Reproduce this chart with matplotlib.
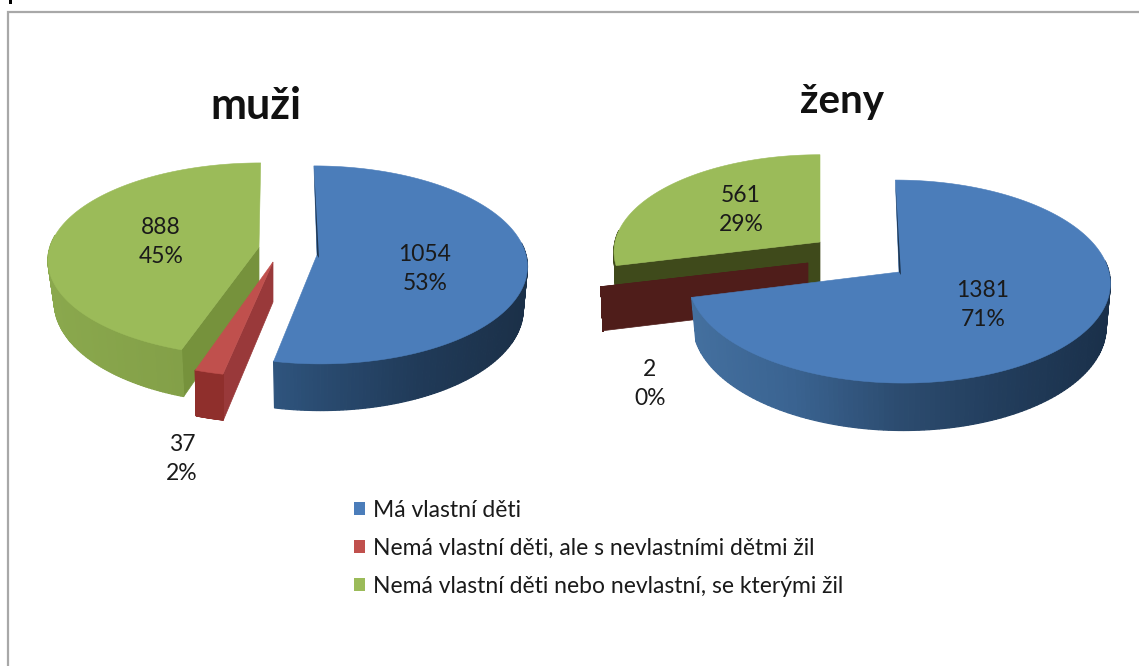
import numpy as np
import matplotlib
matplotlib.use("Agg")
import matplotlib.pyplot as plt
from matplotlib.patches import Polygon, Patch, Rectangle
from matplotlib.colors import to_rgb

plt.rcParams['font.family'] = ['Lato', 'DejaVu Sans']

series_names = ["Má vlastní děti",
                "Nemá vlastní děti, ale s nevlastními dětmi žil",
                "Nemá vlastní děti nebo nevlastní, se kterými žil"]
men_values = [1054, 37, 888]
women_values = [1381, 2, 561]
men_pct = ["53%", "2%", "45%"]
women_pct = ["71%", "0%", "29%"]
top_colors = ["#4b7dba", "#c0504d", "#9bbb59"]


def project(g, th, bottom=False):
    """th in radians clockwise from the top of the pie."""
    s = 1.0 / (1.0 + g["k"] * np.cos(th))
    shrink = g["shrink"] if bottom else 1.0
    dy = -g["Ry"] * np.cos(th) * s
    x = g["cx"] + g["R"] * np.sin(th) * s * shrink + g["shear"] * dy
    y = g["cy"] + dy
    if bottom:
        y = y + g["depth"] * s
    return x, y


def lerp_stops(stops, t):
    t = np.clip(t, 0, 1)
    xs = np.linspace(0, 1, len(stops))
    rgb = np.array([to_rgb(c) for c in stops])
    return tuple(np.interp(t, xs, rgb[:, i]) for i in range(3))


def draw_rim(ax, g, a0, a1, stops, z):
    th = np.linspace(a0, a1, 200)
    xt, yt = project(g, th)
    xb, yb = project(g, th, bottom=True)
    lo, hi = g["cx"] - g["R"], g["cx"] + g["R"]
    for i in range(len(th) - 1):
        if np.cos((th[i] + th[i + 1]) / 2) > 0.12:
            continue
        quad = [(xt[i], yt[i]), (xt[i + 1], yt[i + 1]), (xb[i + 1], yb[i + 1]), (xb[i], yb[i])]
        col = lerp_stops(stops, (xt[i] - lo) / (hi - lo))
        ax.add_patch(Polygon(quad, closed=True, fc=col, ec=col, lw=0.9, zorder=z))


def draw_wedge(ax, g, a0, a1, top, rim_stops, face=None, face_at=None, sliver=None, z=2):
    if face is not None:
        xt, yt = project(g, face_at)
        xb, yb = project(g, face_at, bottom=True)
        ax.add_patch(Polygon([(g["cx"], g["cy"]), (xt, yt), (xb, yb), (g["cx"], g["cy"] + g["depth"])],
                             closed=True, fc=face, ec=face, lw=0.5, zorder=z))
    draw_rim(ax, g, a0, a1, rim_stops, z + 0.1)
    th = np.linspace(a0, a1, 200)
    x, y = project(g, th)
    pts = [(g["cx"], g["cy"])] + list(zip(x, y))
    if sliver is not None:
        xs, ys = project(g, a0)
        ax.add_patch(Polygon([(xs, ys), (g["cx"], g["cy"]), (g["cx"] + sliver, g["cy"] + 3)],
                             closed=True, fc="#1c344f", ec="none", zorder=z + 0.25))
    ax.add_patch(Polygon(pts, closed=True, fc=top, ec=top, lw=0.4, zorder=z + 0.2))


def angles(values):
    v = np.array(values, dtype=float)
    return np.concatenate([[0], np.cumsum(v)]) / v.sum() * 2 * np.pi


fig = plt.figure(figsize=(11.39, 6.66), dpi=100, facecolor="white")
ax = fig.add_axes([0, 0, 1, 1])
ax.set_xlim(0, 1139)
ax.set_ylim(666, 0)
ax.axis("off")

# outer frame: only the top and left lines are visible
ax.plot([8, 8, 1139], [666, 12, 12], color="#a8a8a8", lw=1.6, solid_joinstyle="miter", zorder=1)
ax.add_patch(Rectangle((8.5, 0), 3.5, 4, fc="black", ec="none", zorder=1))

blue_rim_men = ["#3d6ea3", "#36618f", "#2a4c72", "#203a58", "#1b3048"]
blue_rim_women = ["#44709f", "#3a6391", "#2c4c70", "#223d5c", "#1a304a"]
green_rim_men = ["#8aa84d", "#7f9b45", "#7f9b45"]
red_rim = ["#8f2f2c", "#8f2f2c"]
dark_red_rim = ["#4f1d1a", "#4f1d1a"]
dark_olive_rim = ["#3f4a1b", "#3f4a1b"]

# men
e = angles(men_values)
green_g = dict(cx=259, cy=247, R=209, Ry=95, k=0.13, depth=41, shrink=0.97, shear=-0.02)
red_g = dict(cx=273, cy=262, R=215, Ry=100, k=0.13, depth=40, shrink=0.99, shear=0.0)
blue_g = dict(cx=317, cy=255, R=209, Ry=98, k=0.10, depth=42, shrink=0.98, shear=0.035)
draw_wedge(ax, green_g, e[2], e[3], top_colors[2], green_rim_men, face="#76923c", face_at=e[2], z=2)
draw_wedge(ax, red_g, e[1], e[2], top_colors[1], red_rim, face="#99393a", face_at=e[1], z=3)
draw_wedge(ax, blue_g, e[0], e[1], top_colors[0], blue_rim_men, sliver=2, z=4)

# women
e = angles(women_values)
green_g = dict(cx=820, cy=242, R=205, Ry=96, k=0.10, depth=42, shrink=0.99, shear=0.0)
red_g = dict(cx=808, cy=263, R=208, Ry=96, k=0.10, depth=43, shrink=0.99, shear=0.0)
blue_g = dict(cx=899, cy=272, R=210, Ry=100.6, k=0.094, depth=43, shrink=0.98, shear=0.04)
draw_wedge(ax, green_g, e[2], e[3], top_colors[2], dark_olive_rim, face="#3f4a1b", face_at=e[2], z=2)
draw_wedge(ax, red_g, e[1], e[2], "#4f1d1a", dark_red_rim, face="#4f1d1a", face_at=e[2], z=3)
draw_wedge(ax, blue_g, e[0], e[1], top_colors[0], blue_rim_women, sliver=2, z=4)

# titles
ax.text(256, 106, "muži", ha="center", va="center", fontsize=31, fontweight="bold", color="#111111", zorder=6)
ax.text(842, 101, "ženy", ha="center", va="center", fontsize=29, fontweight="bold", color="#111111", zorder=6)

# data labels
label_xy_men = [(425, 269), (182, 459), (161, 242)]
label_xy_women = [(983, 305), (650, 384), (741, 210)]
for vals, pcts, xy in [(men_values, men_pct, label_xy_men), (women_values, women_pct, label_xy_women)]:
    for v, p, (x, y) in zip(vals, pcts, xy):
        ax.text(x, y, f"{v}\n{p}", ha="center", va="center", fontsize=16.5, color="#1a1a1a",
                linespacing=1.5, zorder=7)

handles = [Patch(fc=c, ec="none") for c in top_colors]
ax.legend(handles, series_names, loc="upper left", bbox_to_anchor=(354 / 1139, 1 - 500 / 666),
          frameon=False, fontsize=16.5, handlelength=0.48, handleheight=0.48, handletextpad=0.36,
          labelspacing=0.74, labelcolor="#1a1a1a", borderaxespad=0, borderpad=0)

fig.savefig("out.png", dpi=100, facecolor="white")
